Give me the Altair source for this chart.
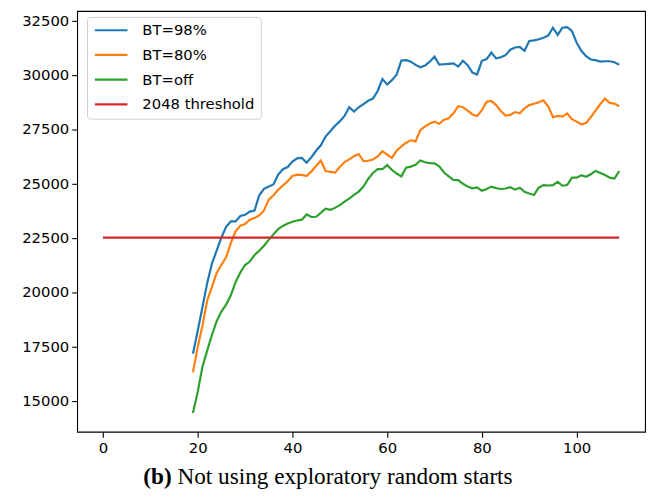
import altair as alt
import pandas as pd

# ---- data ----
x_start = 19
bt98 = [17160, 18200, 19300, 20400, 21300, 21900, 22500, 23000, 23250, 23250,
        23500, 23550, 23700, 23750, 24450, 24750, 24850, 24950, 25400, 25650,
        25750, 26000, 26150, 26170, 25950, 26200, 26500, 26750, 27150, 27400,
        27650, 27850, 28100, 28500, 28300, 28500, 28650, 28800, 28900, 29250,
        29800, 29550, 29750, 30000, 30650, 30670, 30600, 30450, 30340, 30420,
        30600, 30830, 30460, 30480, 30500, 30520, 30370, 30640, 30440, 30100,
        30010, 30640, 30720, 31020, 30750, 30800, 30900, 31150, 31250, 31280,
        31100, 31550, 31580, 31630, 31700, 31800, 32160, 31830, 32160, 32190,
        32010, 31480, 31100, 30850, 30700, 30670, 30600, 30620, 30620, 30570,
        30460]
bt80 = [16300, 17450, 18450, 19600, 20220, 20870, 21250, 21600, 22250, 22790,
        23050, 23130, 23330, 23400, 23530, 23750, 24250, 24450, 24700, 24900,
        25100, 25340, 25400, 25390, 25340, 25550, 25800, 26050, 25570, 25530,
        25490, 25750, 25980, 26100, 26250, 26350, 26020, 26040, 26100, 26240,
        26480, 26320, 26170, 26500, 26700, 26870, 26980, 26930, 27450, 27620,
        27760, 27840, 27740, 27930, 27990, 28220, 28550, 28500, 28350, 28170,
        28100, 28370, 28750, 28790, 28600, 28330, 28120, 28150, 28280, 28220,
        28450, 28600, 28660, 28730, 28820, 28550, 28040, 28100, 28070, 28220,
        27950, 27840, 27720, 27780, 28050, 28350, 28650, 28900, 28700, 28670,
        28550]
btoff = [14430, 15400, 16550, 17300, 18020, 18650, 19100, 19420, 19850, 20450,
         20900, 21240, 21400, 21700, 21900, 22130, 22400, 22650, 22900, 23040,
         23150, 23230, 23290, 23330, 23570, 23450, 23460, 23640, 23830, 23780,
         23870, 24000, 24160, 24300, 24470, 24620, 24850, 25200, 25480, 25650,
         25650, 25840, 25620, 25450, 25320, 25720, 25770, 25850, 26050, 25970,
         25930, 25920, 25780, 25500, 25320, 25160, 25150, 24980, 24850, 24770,
         24810, 24660, 24740, 24850, 24780, 24740, 24760, 24820, 24710, 24800,
         24610, 24530, 24460, 24800, 24920, 24900, 24920, 25070, 24890, 24920,
         25260, 25260, 25370, 25300, 25420, 25570, 25480, 25380, 25260, 25220,
         25570]
threshold_x = [0, 109]
threshold_y = [22500, 22500]

series_names = ["BT=98%", "BT=80%", "BT=off", "2048 threshold"]
series_colors = ["#1f77b4", "#ff7f0e", "#2ca02c", "#d62728"]
x_ticks = [0, 20, 40, 60, 80, 100]
y_ticks = [15000, 17500, 20000, 22500, 25000, 27500, 30000, 32500]
caption_bold = "(b)"
caption_rest = "Not using exploratory random starts"

# ---- build table ----
rows = []
for name, ys in zip(series_names[:3], [bt98, bt80, btoff]):
    for i, v in enumerate(ys):
        rows.append({"x": x_start + i, "y": v, "series": name})
for xv, yv in zip(threshold_x, threshold_y):
    rows.append({"x": xv, "y": yv, "series": series_names[3]})
df = pd.DataFrame(rows)

W, H = 575, 426
FONT = "DejaVu Sans"

lines = alt.Chart(df).mark_line(strokeWidth=2.2).encode(
    x=alt.X("x:Q",
            scale=alt.Scale(domain=[-5.45, 114.45], nice=False, zero=False),
            axis=alt.Axis(values=x_ticks, title=None, labelPadding=4)),
    y=alt.Y("y:Q",
            scale=alt.Scale(domain=[13569, 32932], nice=False, zero=False),
            axis=alt.Axis(values=y_ticks, title=None, format="d", labelPadding=3)),
    color=alt.Color("series:N",
                    scale=alt.Scale(domain=series_names, range=series_colors),
                    legend=alt.Legend(title=None, orient="none", legendX=10, legendY=6,
                                      symbolType="M-1,0H5", symbolSize=121,
                                      symbolStrokeWidth=2.2, labelOffset=35,
                                      labelFontSize=15, labelFont=FONT,
                                      labelColor="#000000", rowPadding=9,
                                      padding=6, fillColor="white",
                                      strokeColor="#d0d0d0", cornerRadius=3)),
)

cap1 = alt.Chart(pd.DataFrame({"t": [caption_bold]})).mark_text(
    font="Liberation Serif", fontSize=23.5, fontWeight="bold", align="left",
    baseline="alphabetic", color="black"
).encode(x=alt.value(67), y=alt.value(479), text="t:N")

cap2 = alt.Chart(pd.DataFrame({"t": [caption_rest]})).mark_text(
    font="Liberation Serif", fontSize=23.5, align="left",
    baseline="alphabetic", color="black"
).encode(x=alt.value(101.6), y=alt.value(479), text="t:N")

chart = alt.layer(lines, cap1, cap2).properties(
    width=W, height=H,
    autosize=alt.AutoSizeParams(type="none"),
    padding={"left": 70, "top": 0, "right": 4, "bottom": 57},
).configure_view(
    stroke="black", strokeWidth=1.1
).configure_axis(
    grid=False, domain=False, labelFont=FONT, labelFontSize=15,
    labelColor="#000000", tickColor="black", tickSize=5.5, tickWidth=1.1
)

chart.save("out.html", embed_options={"renderer": "svg", "actions": False})
